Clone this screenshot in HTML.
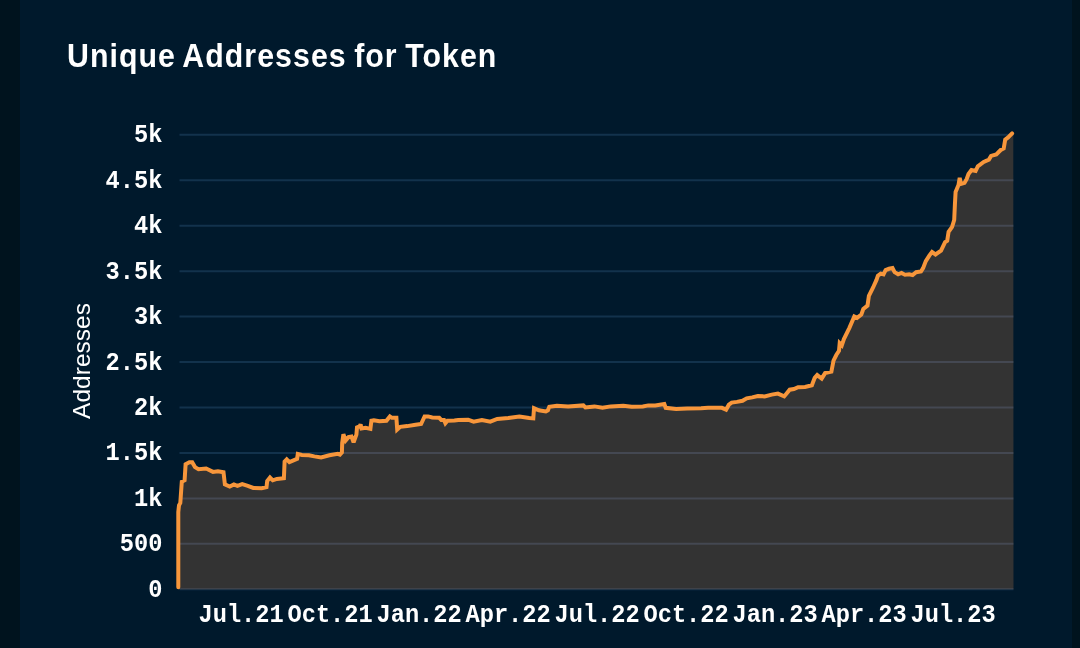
<!DOCTYPE html>
<html lang="en">
<head>
<meta charset="utf-8">
<title>Unique Addresses for Token</title>
<style>
html,body{margin:0;padding:0;}
body{width:1080px;height:648px;overflow:hidden;background:#00131e;position:relative;font-family:"Liberation Sans",sans-serif;}
.panel{position:absolute;left:20px;top:0;width:1052px;height:648px;background:#00192c;}
h1{position:absolute;left:67px;top:39.3px;margin:0;font:bold 30.3px/34px "Liberation Sans",sans-serif;color:#fff;white-space:nowrap;letter-spacing:1.05px;word-spacing:-2px;will-change:transform;transform:scaleY(1.10);transform-origin:0 16.5px;}
.chart{position:absolute;left:0;top:0;will-change:transform;}
.tick text{font:bold 23.7px "Liberation Mono",monospace;fill:#fff;}
.ylab{font:24.5px "Liberation Sans",sans-serif;fill:#fff;}
</style>
</head>
<body>
<div class="panel"></div>
<h1>Unique Addresses for Token</h1>
<svg class="chart" width="1080" height="648" viewBox="0 0 1080 648">
<line x1="179.5" x2="1013.5" y1="589.30" y2="589.30" stroke="#12324c" stroke-width="2"/>
<line x1="179.5" x2="1013.5" y1="543.85" y2="543.85" stroke="#12324c" stroke-width="2"/>
<line x1="179.5" x2="1013.5" y1="498.40" y2="498.40" stroke="#12324c" stroke-width="2"/>
<line x1="179.5" x2="1013.5" y1="452.95" y2="452.95" stroke="#12324c" stroke-width="2"/>
<line x1="179.5" x2="1013.5" y1="407.50" y2="407.50" stroke="#12324c" stroke-width="2"/>
<line x1="179.5" x2="1013.5" y1="362.05" y2="362.05" stroke="#12324c" stroke-width="2"/>
<line x1="179.5" x2="1013.5" y1="316.60" y2="316.60" stroke="#12324c" stroke-width="2"/>
<line x1="179.5" x2="1013.5" y1="271.15" y2="271.15" stroke="#12324c" stroke-width="2"/>
<line x1="179.5" x2="1013.5" y1="225.70" y2="225.70" stroke="#12324c" stroke-width="2"/>
<line x1="179.5" x2="1013.5" y1="180.25" y2="180.25" stroke="#12324c" stroke-width="2"/>
<line x1="179.5" x2="1013.5" y1="134.80" y2="134.80" stroke="#12324c" stroke-width="2"/>
<path d="M178.3,587.2 L178.3,512.0 L179.0,505.3 L180.3,503.0 L181.8,481.7 L184.6,480.3 L185.6,464.3 L189.4,462.2 L192.2,462.2 L195.0,467.1 L198.5,469.2 L206.1,468.5 L213.0,471.9 L217.9,471.3 L223.5,472.2 L224.9,484.4 L229.7,486.5 L233.9,484.4 L237.4,485.8 L242.2,484.2 L247.8,485.8 L253.3,487.9 L261.7,488.3 L266.5,487.2 L267.2,481.0 L270.0,477.5 L272.8,480.3 L276.9,478.9 L283.9,478.2 L284.6,461.5 L286.7,459.4 L289.4,462.2 L297.1,458.8 L297.8,453.9 L301.9,455.0 L308.9,455.3 L314.4,456.4 L321.1,457.4 L329.4,455.3 L337.8,453.9 L339.9,454.6 L341.9,452.5 L342.2,442.8 L343.4,434.2 L345.6,440.6 L348.5,437.2 L351.5,436.6 L353.6,442.4 L356.4,434.6 L357.0,427.4 L359.6,426.4 L360.6,424.4 L361.5,428.4 L365.6,427.8 L370.4,428.9 L371.4,420.8 L373.9,420.3 L379.4,421.3 L386.4,420.8 L389.9,416.4 L391.9,417.8 L396.4,417.8 L397.2,429.6 L400.3,426.8 L407.2,426.1 L415.6,424.7 L421.1,424.0 L424.6,416.4 L428.1,416.4 L432.2,417.5 L439.2,417.8 L441.3,419.9 L444.0,419.9 L445.4,423.3 L447.5,420.8 L454.4,420.6 L458.3,420.0 L468.1,419.7 L473.6,421.7 L481.9,420.0 L490.3,421.7 L497.2,418.9 L508.3,417.9 L519.4,416.5 L529.2,417.9 L533.3,418.3 L534.0,408.2 L538.9,410.3 L545.8,411.4 L547.9,410.3 L549.3,406.8 L556.9,405.8 L568.1,406.4 L583.3,405.4 L585.4,407.5 L594.4,406.4 L602.5,407.8 L610.8,406.4 L623.3,405.8 L631.7,406.8 L642.8,406.4 L648.3,405.4 L655.3,405.4 L664.3,404.0 L665.7,407.8 L676.1,408.9 L687.2,408.6 L701.1,408.2 L708.1,407.8 L721.9,407.8 L726.1,409.6 L728.9,404.7 L731.7,402.6 L736.9,401.9 L742.5,400.8 L746.7,398.3 L752.2,397.4 L757.8,396.0 L764.7,396.4 L771.7,394.6 L777.9,393.6 L784.2,396.4 L789.7,389.7 L793.9,389.0 L798.1,387.2 L805.0,386.9 L811.9,385.3 L814.7,377.9 L817.2,375.1 L821.7,378.6 L825.1,373.1 L831.4,371.7 L833.5,360.6 L836.3,355.0 L839.0,350.8 L839.7,343.2 L841.8,345.3 L843.9,339.0 L849.4,327.8 L854.3,316.4 L857.1,317.8 L861.3,314.6 L863.3,309.0 L867.5,305.6 L868.9,295.8 L873.1,287.5 L876.5,279.9 L877.9,275.7 L880.7,273.6 L883.5,274.3 L885.6,270.1 L889.0,268.8 L892.5,268.1 L894.6,272.2 L898.1,274.3 L901.5,272.9 L905.0,274.7 L909.2,274.3 L912.6,275.0 L916.1,272.2 L921.0,271.5 L923.1,268.1 L925.8,261.1 L929.3,255.6 L932.0,252.0 L935.5,254.5 L941.0,250.6 L945.1,242.2 L947.2,240.8 L948.6,231.8 L952.1,226.9 L954.2,220.0 L954.9,204.7 L955.6,192.0 L958.5,185.0 L959.7,177.8 L960.9,184.0 L964.5,182.9 L966.7,179.0 L968.5,174.0 L971.5,170.0 L975.6,171.0 L977.8,166.3 L983.7,161.9 L988.9,159.6 L991.1,155.9 L996.3,154.4 L1000.7,150.0 L1003.7,148.5 L1005.2,139.6 L1008.1,137.4 L1012.1,133.4 L1013.3,133.4 L1013.5,589.3 L178.3,589.3 Z" fill="#333333"/>
<clipPath id="ac"><path d="M178.3,587.2 L178.3,512.0 L179.0,505.3 L180.3,503.0 L181.8,481.7 L184.6,480.3 L185.6,464.3 L189.4,462.2 L192.2,462.2 L195.0,467.1 L198.5,469.2 L206.1,468.5 L213.0,471.9 L217.9,471.3 L223.5,472.2 L224.9,484.4 L229.7,486.5 L233.9,484.4 L237.4,485.8 L242.2,484.2 L247.8,485.8 L253.3,487.9 L261.7,488.3 L266.5,487.2 L267.2,481.0 L270.0,477.5 L272.8,480.3 L276.9,478.9 L283.9,478.2 L284.6,461.5 L286.7,459.4 L289.4,462.2 L297.1,458.8 L297.8,453.9 L301.9,455.0 L308.9,455.3 L314.4,456.4 L321.1,457.4 L329.4,455.3 L337.8,453.9 L339.9,454.6 L341.9,452.5 L342.2,442.8 L343.4,434.2 L345.6,440.6 L348.5,437.2 L351.5,436.6 L353.6,442.4 L356.4,434.6 L357.0,427.4 L359.6,426.4 L360.6,424.4 L361.5,428.4 L365.6,427.8 L370.4,428.9 L371.4,420.8 L373.9,420.3 L379.4,421.3 L386.4,420.8 L389.9,416.4 L391.9,417.8 L396.4,417.8 L397.2,429.6 L400.3,426.8 L407.2,426.1 L415.6,424.7 L421.1,424.0 L424.6,416.4 L428.1,416.4 L432.2,417.5 L439.2,417.8 L441.3,419.9 L444.0,419.9 L445.4,423.3 L447.5,420.8 L454.4,420.6 L458.3,420.0 L468.1,419.7 L473.6,421.7 L481.9,420.0 L490.3,421.7 L497.2,418.9 L508.3,417.9 L519.4,416.5 L529.2,417.9 L533.3,418.3 L534.0,408.2 L538.9,410.3 L545.8,411.4 L547.9,410.3 L549.3,406.8 L556.9,405.8 L568.1,406.4 L583.3,405.4 L585.4,407.5 L594.4,406.4 L602.5,407.8 L610.8,406.4 L623.3,405.8 L631.7,406.8 L642.8,406.4 L648.3,405.4 L655.3,405.4 L664.3,404.0 L665.7,407.8 L676.1,408.9 L687.2,408.6 L701.1,408.2 L708.1,407.8 L721.9,407.8 L726.1,409.6 L728.9,404.7 L731.7,402.6 L736.9,401.9 L742.5,400.8 L746.7,398.3 L752.2,397.4 L757.8,396.0 L764.7,396.4 L771.7,394.6 L777.9,393.6 L784.2,396.4 L789.7,389.7 L793.9,389.0 L798.1,387.2 L805.0,386.9 L811.9,385.3 L814.7,377.9 L817.2,375.1 L821.7,378.6 L825.1,373.1 L831.4,371.7 L833.5,360.6 L836.3,355.0 L839.0,350.8 L839.7,343.2 L841.8,345.3 L843.9,339.0 L849.4,327.8 L854.3,316.4 L857.1,317.8 L861.3,314.6 L863.3,309.0 L867.5,305.6 L868.9,295.8 L873.1,287.5 L876.5,279.9 L877.9,275.7 L880.7,273.6 L883.5,274.3 L885.6,270.1 L889.0,268.8 L892.5,268.1 L894.6,272.2 L898.1,274.3 L901.5,272.9 L905.0,274.7 L909.2,274.3 L912.6,275.0 L916.1,272.2 L921.0,271.5 L923.1,268.1 L925.8,261.1 L929.3,255.6 L932.0,252.0 L935.5,254.5 L941.0,250.6 L945.1,242.2 L947.2,240.8 L948.6,231.8 L952.1,226.9 L954.2,220.0 L954.9,204.7 L955.6,192.0 L958.5,185.0 L959.7,177.8 L960.9,184.0 L964.5,182.9 L966.7,179.0 L968.5,174.0 L971.5,170.0 L975.6,171.0 L977.8,166.3 L983.7,161.9 L988.9,159.6 L991.1,155.9 L996.3,154.4 L1000.7,150.0 L1003.7,148.5 L1005.2,139.6 L1008.1,137.4 L1012.1,133.4 L1013.3,133.4 L1013.5,589.3 L178.3,589.3 Z"/></clipPath>
<g clip-path="url(#ac)">
<line x1="179.5" x2="1013.5" y1="589.30" y2="589.30" stroke="#444852" stroke-width="2"/>
<line x1="179.5" x2="1013.5" y1="543.85" y2="543.85" stroke="#444852" stroke-width="2"/>
<line x1="179.5" x2="1013.5" y1="498.40" y2="498.40" stroke="#444852" stroke-width="2"/>
<line x1="179.5" x2="1013.5" y1="452.95" y2="452.95" stroke="#444852" stroke-width="2"/>
<line x1="179.5" x2="1013.5" y1="407.50" y2="407.50" stroke="#444852" stroke-width="2"/>
<line x1="179.5" x2="1013.5" y1="362.05" y2="362.05" stroke="#444852" stroke-width="2"/>
<line x1="179.5" x2="1013.5" y1="316.60" y2="316.60" stroke="#444852" stroke-width="2"/>
<line x1="179.5" x2="1013.5" y1="271.15" y2="271.15" stroke="#444852" stroke-width="2"/>
<line x1="179.5" x2="1013.5" y1="225.70" y2="225.70" stroke="#444852" stroke-width="2"/>
<line x1="179.5" x2="1013.5" y1="180.25" y2="180.25" stroke="#444852" stroke-width="2"/>
<line x1="179.5" x2="1013.5" y1="134.80" y2="134.80" stroke="#444852" stroke-width="2"/>
</g>
<path d="M178.3,587.2 L178.3,512.0 L179.0,505.3 L180.3,503.0 L181.8,481.7 L184.6,480.3 L185.6,464.3 L189.4,462.2 L192.2,462.2 L195.0,467.1 L198.5,469.2 L206.1,468.5 L213.0,471.9 L217.9,471.3 L223.5,472.2 L224.9,484.4 L229.7,486.5 L233.9,484.4 L237.4,485.8 L242.2,484.2 L247.8,485.8 L253.3,487.9 L261.7,488.3 L266.5,487.2 L267.2,481.0 L270.0,477.5 L272.8,480.3 L276.9,478.9 L283.9,478.2 L284.6,461.5 L286.7,459.4 L289.4,462.2 L297.1,458.8 L297.8,453.9 L301.9,455.0 L308.9,455.3 L314.4,456.4 L321.1,457.4 L329.4,455.3 L337.8,453.9 L339.9,454.6 L341.9,452.5 L342.2,442.8 L343.4,434.2 L345.6,440.6 L348.5,437.2 L351.5,436.6 L353.6,442.4 L356.4,434.6 L357.0,427.4 L359.6,426.4 L360.6,424.4 L361.5,428.4 L365.6,427.8 L370.4,428.9 L371.4,420.8 L373.9,420.3 L379.4,421.3 L386.4,420.8 L389.9,416.4 L391.9,417.8 L396.4,417.8 L397.2,429.6 L400.3,426.8 L407.2,426.1 L415.6,424.7 L421.1,424.0 L424.6,416.4 L428.1,416.4 L432.2,417.5 L439.2,417.8 L441.3,419.9 L444.0,419.9 L445.4,423.3 L447.5,420.8 L454.4,420.6 L458.3,420.0 L468.1,419.7 L473.6,421.7 L481.9,420.0 L490.3,421.7 L497.2,418.9 L508.3,417.9 L519.4,416.5 L529.2,417.9 L533.3,418.3 L534.0,408.2 L538.9,410.3 L545.8,411.4 L547.9,410.3 L549.3,406.8 L556.9,405.8 L568.1,406.4 L583.3,405.4 L585.4,407.5 L594.4,406.4 L602.5,407.8 L610.8,406.4 L623.3,405.8 L631.7,406.8 L642.8,406.4 L648.3,405.4 L655.3,405.4 L664.3,404.0 L665.7,407.8 L676.1,408.9 L687.2,408.6 L701.1,408.2 L708.1,407.8 L721.9,407.8 L726.1,409.6 L728.9,404.7 L731.7,402.6 L736.9,401.9 L742.5,400.8 L746.7,398.3 L752.2,397.4 L757.8,396.0 L764.7,396.4 L771.7,394.6 L777.9,393.6 L784.2,396.4 L789.7,389.7 L793.9,389.0 L798.1,387.2 L805.0,386.9 L811.9,385.3 L814.7,377.9 L817.2,375.1 L821.7,378.6 L825.1,373.1 L831.4,371.7 L833.5,360.6 L836.3,355.0 L839.0,350.8 L839.7,343.2 L841.8,345.3 L843.9,339.0 L849.4,327.8 L854.3,316.4 L857.1,317.8 L861.3,314.6 L863.3,309.0 L867.5,305.6 L868.9,295.8 L873.1,287.5 L876.5,279.9 L877.9,275.7 L880.7,273.6 L883.5,274.3 L885.6,270.1 L889.0,268.8 L892.5,268.1 L894.6,272.2 L898.1,274.3 L901.5,272.9 L905.0,274.7 L909.2,274.3 L912.6,275.0 L916.1,272.2 L921.0,271.5 L923.1,268.1 L925.8,261.1 L929.3,255.6 L932.0,252.0 L935.5,254.5 L941.0,250.6 L945.1,242.2 L947.2,240.8 L948.6,231.8 L952.1,226.9 L954.2,220.0 L954.9,204.7 L955.6,192.0 L958.5,185.0 L959.7,177.8 L960.9,184.0 L964.5,182.9 L966.7,179.0 L968.5,174.0 L971.5,170.0 L975.6,171.0 L977.8,166.3 L983.7,161.9 L988.9,159.6 L991.1,155.9 L996.3,154.4 L1000.7,150.0 L1003.7,148.5 L1005.2,139.6 L1008.1,137.4 L1012.1,133.4" fill="none" stroke="#f7963b" stroke-width="4.0" stroke-linejoin="miter" stroke-miterlimit="2.6" stroke-linecap="round"/>
<g class="tick" text-anchor="end">
<text transform="translate(162.4,596.80) scale(1,1.07)">0</text>
<text transform="translate(162.4,551.35) scale(1,1.07)">500</text>
<text transform="translate(162.4,505.90) scale(1,1.07)">1k</text>
<text transform="translate(162.4,460.45) scale(1,1.07)">1.5k</text>
<text transform="translate(162.4,415.00) scale(1,1.07)">2k</text>
<text transform="translate(162.4,369.55) scale(1,1.07)">2.5k</text>
<text transform="translate(162.4,324.10) scale(1,1.07)">3k</text>
<text transform="translate(162.4,278.65) scale(1,1.07)">3.5k</text>
<text transform="translate(162.4,233.20) scale(1,1.07)">4k</text>
<text transform="translate(162.4,187.75) scale(1,1.07)">4.5k</text>
<text transform="translate(162.4,142.30) scale(1,1.07)">5k</text>
</g>
<g class="tick" text-anchor="middle">
<text transform="translate(241.10,622) scale(1,1.08)">Jul.21</text>
<text transform="translate(330.10,622) scale(1,1.08)">Oct.21</text>
<text transform="translate(419.10,622) scale(1,1.08)">Jan.22</text>
<text transform="translate(508.10,622) scale(1,1.08)">Apr.22</text>
<text transform="translate(597.10,622) scale(1,1.08)">Jul.22</text>
<text transform="translate(686.10,622) scale(1,1.08)">Oct.22</text>
<text transform="translate(775.10,622) scale(1,1.08)">Jan.23</text>
<text transform="translate(864.10,622) scale(1,1.08)">Apr.23</text>
<text transform="translate(953.10,622) scale(1,1.08)">Jul.23</text>
</g>
<text class="ylab" transform="translate(90,361) rotate(-90)" text-anchor="middle">Addresses</text>
</svg>
</body>
</html>
